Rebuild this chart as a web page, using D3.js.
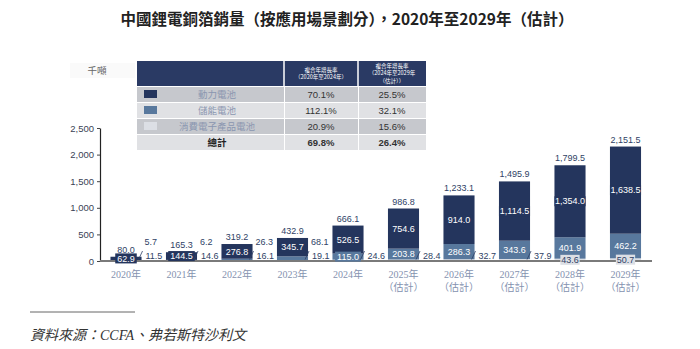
<!DOCTYPE html>
<html>
<head>
<meta charset="utf-8">
<script src="https://cdn.jsdelivr.net/npm/d3@7"></script>
<style>
  body { margin: 0; background: #fff; }
  svg { display: block; }
</style>
</head>
<body>
<div id="chart"></div>
<script>
// dati (千噸)
var years = ["2020", "2021", "2022", "2023", "2024", "2025", "2026", "2027", "2028", "2029"];
var estimated = [false, false, false, false, false, true, true, true, true, true];
var power = [62.9, 144.5, 276.8, 345.7, 526.5, 754.6, 914.0, 1114.5, 1354.0, 1638.5];
var storage = [5.7, 6.2, 26.3, 68.1, 115.0, 203.8, 286.3, 343.6, 401.9, 462.2];
var consumer = [11.5, 14.6, 16.1, 19.1, 24.6, 28.4, 32.7, 37.9, 43.6, 50.7];
var totals = [80.0, 165.3, 319.2, 432.9, 666.1, 986.8, 1233.1, 1495.9, 1799.5, 2151.5];
var yTicks = [0, 500, 1000, 1500, 2000, 2500];

// tabella CAGR
var tableRows = ["動力電池", "儲能電池", "消費電子產品電池", "總計"];
var cagrA = ["70.1%", "112.1%", "20.9%", "69.8%"];
var cagrB = ["25.5%", "32.1%", "15.6%", "26.4%"];
var headerA = ["複合年增長率", "（2020年至2024年）"];
var headerB = ["複合年增長率", "（2024年至2029年", "（估計））"];

var colDark = "#24355d", colMid = "#58789d", colLight = "#dcdfe5";
var labelColor = "#2f3f66";
var cjk = "'Noto Sans CJK TC', 'Noto Sans CJK SC', sans-serif";
var num = "'Liberation Sans', Arial, sans-serif";

var svg = d3.select("#chart").append("svg")
	.attr("width", 700)
	.attr("height", 349);

// titolo
svg.append("text")
	.attr("x", 347).attr("y", 25)
	.attr("text-anchor", "middle")
	.style("font-family", cjk)
	.style("font-size", "15.5px")
	.style("font-weight", "bold")
	.style("fill", "#222")
	.text("中國鋰電銅箔銷量（按應用場景劃分），2020年至2029年（估計）");

// scale
var x = d3.scaleBand()
	.domain(years)
	.range([98.25, 653.25])
	.paddingInner(0.44)
	.paddingOuter(0.22);
var y = d3.scaleLinear()
	.domain([0, 2500])
	.range([261, 128]);

// asse Y
var yAxis = svg.append("g")
	.attr("transform", "translate(100,0)")
	.call(d3.axisLeft(y).tickValues(yTicks).tickFormat(d3.format(",")).tickSize(3).tickSizeOuter(0));
yAxis.select(".domain").attr("stroke", "#222").attr("stroke-width", 1.2);
yAxis.selectAll(".tick line").attr("stroke", "#444");
yAxis.selectAll(".tick text")
	.style("font-family", num)
	.style("font-size", "9.5px")
	.style("fill", "#3a3f55");

// unità
svg.append("rect").attr("x", 70).attr("y", 63).attr("width", 65).attr("height", 15).attr("fill", "#fafafa");
svg.append("text")
	.attr("x", 97).attr("y", 74)
	.attr("text-anchor", "middle")
	.style("font-family", cjk)
	.style("font-size", "9.5px")
	.style("fill", "#666")
	.text("千噸");

// dati impilati: consumer in basso, poi storage, poi power
var data = years.map(function(yr, i) {
	return { year: yr, i: i, consumer: consumer[i], storage: storage[i], power: power[i], total: totals[i] };
});
var keys = ["consumer", "storage", "power"];
var colors = { consumer: colLight, storage: colMid, power: colDark };
var stacked = d3.stack().keys(keys)(data);

var bars = svg.append("g");
stacked.forEach(function(layer) {
	bars.selectAll(".bar-" + layer.key)
		.data(layer)
		.enter()
		.append("rect")
		.attr("x", function(d) { return x(d.data.year); })
		.attr("y", function(d) { return y(d[1]); })
		.attr("width", x.bandwidth())
		.attr("height", function(d) { return y(d[0]) - y(d[1]); })
		.attr("fill", colors[layer.key]);
});

// linea di base
svg.append("line")
	.attr("x1", 100).attr("x2", 652)
	.attr("y1", y(0)).attr("y2", y(0))
	.attr("stroke", "#7a7a7a")
	.attr("stroke-width", 2);

var fmt = d3.format(",.1f");
var labels = svg.append("g")
	.style("font-family", num)
	.style("font-size", "9px");

// etichetta dentro la barra con box di sfondo
function insideLabel(cx, cy, value, bg, fg, bw) {
	var t = labels.append("text")
		.attr("x", cx).attr("y", cy)
		.attr("text-anchor", "middle")
		.attr("dy", "0.35em")
		.style("fill", fg)
		.text(fmt(value));
	var w = Math.min(t.node().getComputedTextLength() + 4, bw);
	labels.insert("rect", function() { return t.node(); })
		.attr("x", cx - w / 2).attr("y", cy - 5)
		.attr("width", w).attr("height", 10)
		.attr("fill", bg);
}
function outsideLabel(xx, yy, value) {
	labels.append("text")
		.attr("x", xx).attr("y", yy)
		.attr("dy", "0.35em")
		.style("fill", labelColor)
		.text(fmt(value));
}

data.forEach(function(d, i) {
	var bw = x.bandwidth();
	var cx = x(d.year) + bw / 2;
	var right = x(d.year) + bw;
	var sumBelow = d.consumer + d.storage;

	// totale sopra
	labels.append("text")
		.attr("x", cx).attr("y", y(d.total) - 4)
		.attr("text-anchor", "middle")
		.style("fill", labelColor)
		.text(fmt(d.total));

	// power
	insideLabel(cx, Math.min(y(sumBelow + d.power / 2), 258.5), d.power, colDark, "#fff", bw);

	// storage
	if (d.storage >= 100) {
		insideLabel(cx, Math.min(y(d.consumer + d.storage / 2), 257.5), d.storage, colMid, "#fff", bw);
	} else {
		outsideLabel(right + 3, 242, d.storage);
	}

	// consumer
	if (d.consumer >= 40) {
		insideLabel(cx, y(d.consumer / 2), d.consumer, colLight, labelColor, bw * 0.62);
	} else {
		outsideLabel(right + 4, 255.5, d.consumer);
		labels.append("line")
			.attr("x1", right - 3).attr("y1", 259.5)
			.attr("x2", right + 1).attr("y2", 251)
			.attr("stroke", labelColor)
			.attr("stroke-width", 0.8);
	}

	// etichette asse X
	var xl = svg.append("text")
		.attr("x", cx).attr("y", 278)
		.attr("text-anchor", "middle")
		.style("font-family", "'Liberation Serif', 'Noto Sans CJK TC', serif")
		.style("font-size", "10px")
		.style("fill", "#8492af");
	xl.append("tspan").attr("x", cx).text(d.year + "年");
	if (estimated[i]) {
		xl.append("tspan").attr("x", cx).attr("dy", 13).text("（估計）");
	}
});

// tabella
var cols = [137, 284, 358, 426];
var table = svg.append("g");
table.append("rect")
	.attr("x", cols[0]).attr("y", 61)
	.attr("width", cols[3] - cols[0]).attr("height", 25)
	.attr("fill", "#2a3a64");
table.selectAll(".sep")
	.data([cols[1], cols[2]])
	.enter().append("line")
	.attr("x1", function(d) { return d; }).attr("x2", function(d) { return d; })
	.attr("y1", 61).attr("y2", 150)
	.attr("stroke", "#fff").attr("stroke-width", 1.5);

[headerA, headerB].forEach(function(lines, k) {
	var cx = (cols[k + 1] + cols[k + 2]) / 2;
	var y0 = 73.5 - (lines.length - 1) * 3.75;
	lines.forEach(function(l, j) {
		table.append("text")
			.attr("x", cx).attr("y", y0 + j * 7.5)
			.attr("dy", "0.35em")
			.attr("text-anchor", "middle")
			.style("font-family", cjk)
			.style("font-size", "5.5px")
			.style("fill", "#fff")
			.text(l);
	});
});

var rowFill = ["#c6c8cd", "#e0e1e4", "#c6c8cd", "#e0e1e4"];
var swatches = [colDark, colMid, colLight];
tableRows.forEach(function(name, r) {
	var top = 87 + r * 16;
	var cy = top + 7.5;
	[0, 1, 2].forEach(function(c) {
		table.append("rect")
			.attr("x", cols[c] + (c ? 1 : 0)).attr("y", top)
			.attr("width", cols[c + 1] - cols[c] - (c ? 1 : 0)).attr("height", 15)
			.attr("fill", rowFill[r]);
	});
	if (r < 3) {
		table.append("rect")
			.attr("x", 144).attr("y", cy - 4.5)
			.attr("width", 13).attr("height", 8)
			.attr("fill", swatches[r]);
	}
	table.append("text")
		.attr("x", 217).attr("y", cy)
		.attr("dy", "0.35em")
		.attr("text-anchor", "middle")
		.style("font-family", cjk)
		.style("font-size", "9.5px")
		.style("font-weight", r === 3 ? "bold" : "normal")
		.style("fill", r === 3 ? "#222" : "#8a96b0")
		.text(name);
	[cagrA[r], cagrB[r]].forEach(function(v, k) {
		table.append("text")
			.attr("x", (cols[k + 1] + cols[k + 2]) / 2).attr("y", cy)
			.attr("dy", "0.35em")
			.attr("text-anchor", "middle")
			.style("font-family", num)
			.style("font-size", "9.5px")
			.style("font-weight", r === 3 ? "bold" : "normal")
			.style("fill", "#333")
			.text(v);
	});
});

// fonte
svg.append("line")
	.attr("x1", 30).attr("x2", 135)
	.attr("y1", 312).attr("y2", 312)
	.attr("stroke", "#666").attr("stroke-width", 1);
svg.append("text")
	.attr("x", 30).attr("y", 340)
	.style("font-family", "'Liberation Serif', 'Noto Sans CJK TC', serif")
	.style("font-style", "italic")
	.style("font-size", "14px")
	.style("fill", "#333")
	.text("資料來源：CCFA、弗若斯特沙利文");
</script>
</body>
</html>
